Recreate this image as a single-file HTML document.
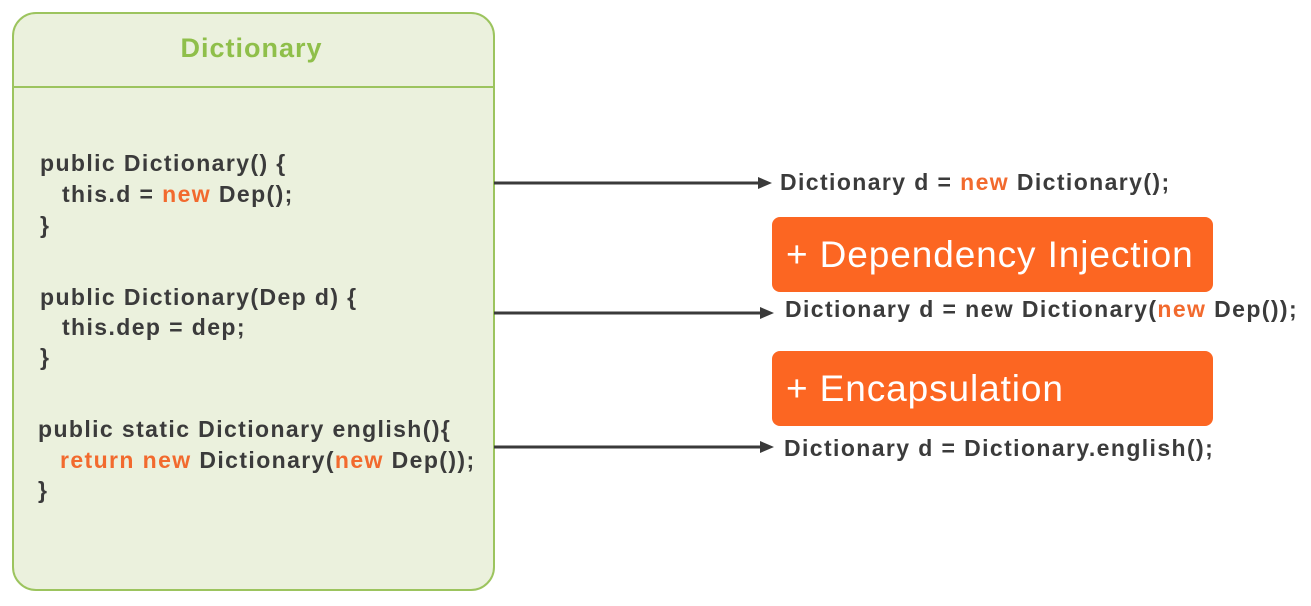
<!DOCTYPE html>
<html><head><meta charset="utf-8"><style>
body{margin:0;width:1311px;height:606px;background:#fff;position:relative;overflow:hidden;font-family:"Liberation Sans",sans-serif;}
.box{position:absolute;left:12px;top:12px;width:479px;height:575px;border:2px solid #9cc45e;border-radius:24px;background:#ebf1dd;}
.hdr{position:absolute;left:12px;top:86px;width:483px;height:2px;background:#9cc45e;}
.title{position:absolute;left:10px;width:483px;top:33px;text-align:center;font-size:27px;letter-spacing:1px;font-weight:bold;color:#8fbf4a;}
.t{position:absolute;font-size:23px;letter-spacing:1.4px;font-weight:bold;color:#3b3b3b;white-space:nowrap;line-height:24px;}
.o{color:#f26a2e;}
.btn{position:absolute;left:772px;width:441px;height:75px;background:#fc6622;border-radius:8px;color:#fff;font-size:37px;letter-spacing:0.9px;line-height:75px;box-sizing:border-box;padding-left:14px;white-space:nowrap;}
</style></head><body>
<div class="box"></div>
<div class="hdr"></div>
<div class="title">Dictionary</div>

<div class="t" style="left:40px;top:151px">public Dictionary() {</div>
<div class="t" style="left:62px;top:182px">this.d = <span class="o">new</span> Dep();</div>
<div class="t" style="left:40px;top:213px">}</div>

<div class="t" style="left:40px;top:285px">public Dictionary(Dep d) {</div>
<div class="t" style="left:62px;top:315px">this.dep = dep;</div>
<div class="t" style="left:40px;top:345px">}</div>

<div class="t" style="left:38px;top:417px">public static Dictionary english(){</div>
<div class="t" style="left:60px;top:448px"><span class="o">return new</span> Dictionary(<span class="o">new</span> Dep());</div>
<div class="t" style="left:38px;top:478px">}</div>

<svg style="position:absolute;left:0;top:0" width="1311" height="606">
<g stroke="#3a3a3a" stroke-width="3">
<line x1="494" y1="183" x2="760" y2="183"/>
<line x1="494" y1="313" x2="760" y2="313"/>
<line x1="494" y1="447" x2="760" y2="447"/>
</g>
<g fill="#3a3a3a">
<polygon points="772,183 758,177 758,189"/>
<polygon points="774,313 760,307 760,319"/>
<polygon points="774,447 760,441 760,453"/>
</g>
</svg>

<div class="t" style="left:780px;top:170px">Dictionary d = <span class="o">new</span> Dictionary();</div>
<div class="btn" style="top:217px">+ Dependency Injection</div>
<div class="t" style="left:785px;top:297px">Dictionary d = new Dictionary(<span class="o">new</span> Dep());</div>
<div class="btn" style="top:351px">+ Encapsulation</div>
<div class="t" style="left:784px;top:436px">Dictionary d = Dictionary.english();</div>
</body></html>
